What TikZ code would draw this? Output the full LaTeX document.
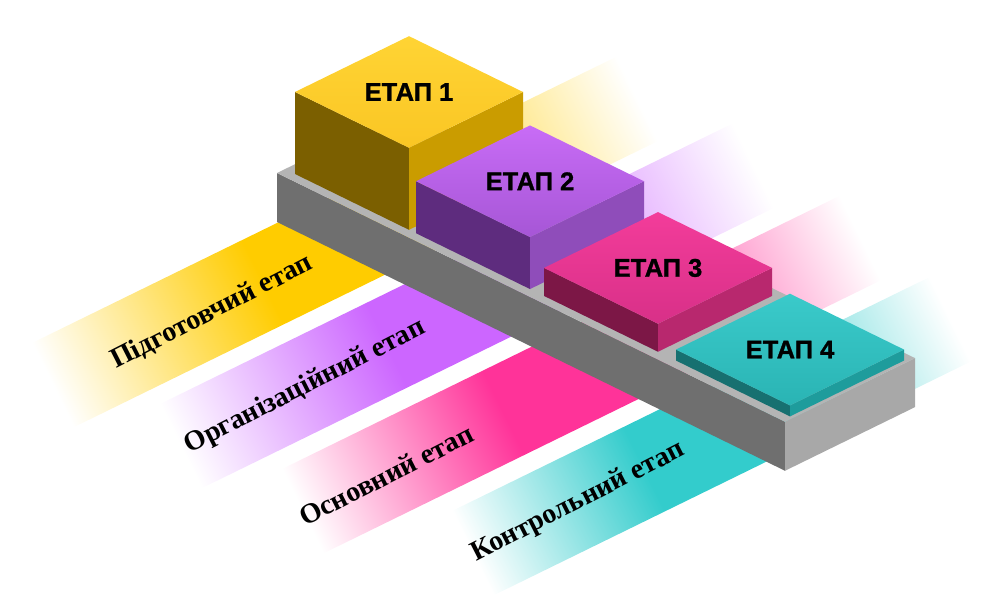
\documentclass[tikz,border=0pt]{standalone}
\usepackage{fontspec}
\setmainfont{Liberation Serif}
\newfontfamily\stagefont[FakeBold=1.2]{Liberation Sans Bold}

\definecolor{prepcol}{RGB}{255,204,0}
\definecolor{orgcol}{RGB}{204,102,255}
\definecolor{basecol}{RGB}{255,51,153}
\definecolor{ctrlcol}{RGB}{51,204,204}

\pgfdeclarehorizontalshading{prepfade}{100bp}{color(0bp)=(white); color(25bp)=(white); color(43bp)=(prepcol); color(53bp)=(prepcol); color(75bp)=(white); color(100bp)=(white)}
\pgfdeclarehorizontalshading{orgfade}{100bp}{color(0bp)=(white); color(25bp)=(white); color(43bp)=(orgcol); color(53bp)=(orgcol); color(75bp)=(white); color(100bp)=(white)}
\pgfdeclarehorizontalshading{basefade}{100bp}{color(0bp)=(white); color(25bp)=(white); color(43bp)=(basecol); color(53bp)=(basecol); color(75bp)=(white); color(100bp)=(white)}
\pgfdeclarehorizontalshading{ctrlfade}{100bp}{color(0bp)=(white); color(25bp)=(white); color(43bp)=(ctrlcol); color(53bp)=(ctrlcol); color(75bp)=(white); color(100bp)=(white)}

\begin{document}
\begin{tikzpicture}[x=0.02cm,y={(0,-0.02cm)},
  bandlabel/.style={font=\bfseries\fontsize{16}{18}\selectfont,rotate=27},
  stagelabel/.style={font=\stagefont\fontsize{14.5}{16}\selectfont}]

\useasboundingbox (0,0) rectangle (984,603);

% Stage bands
\begin{scope}[transform canvas={shift={(32,343)},rotate=26.1}]
\shade[shading=prepfade] (0,0) rectangle (651,94);
\end{scope}
\begin{scope}[transform canvas={shift={(160,404)},rotate=26.1}]
\shade[shading=orgfade] (0,0) rectangle (638,94);
\end{scope}
\begin{scope}[transform canvas={shift={(282,469)},rotate=26.1}]
\shade[shading=basefade] (0,0) rectangle (621,94);
\end{scope}
\begin{scope}[transform canvas={shift={(452,511)},rotate=26.1}]
\shade[shading=ctrlfade] (0,0) rectangle (532,94);
\end{scope}

% Band labels
\node[bandlabel] (prep) at (212,312) {Підготовчий етап};
\node[bandlabel] (org) at (305,387) {Організаційний етап};
\node[bandlabel] (base) at (386,475) {Основний етап};
\node[bandlabel] (ctrl) at (578,502) {Контрольний етап};

\begin{scope}[shift={(277,173)},x={(0.02cm,-0.0098cm)},y={(0.02cm,0.0098cm)},z={(0,0.02cm)}]

% Beam
\fill[fill={rgb,255:red,111;green,111;blue,111}]
  (0,0,0) -- (508,0,0) -- (508,0,-49) -- (0,0,-49) -- cycle;
\fill[fill={rgb,255:red,168;green,168;blue,168}]
  (508,0,0) -- (508,130,0) -- (508,130,-49) -- (508,0,-49) -- cycle;
\fill[fill={rgb,255:red,180;green,180;blue,180}]
  (0,0,0) -- (508,0,0) -- (508,130,0) -- (0,130,0) -- cycle;

% Stage 1 block
\fill[fill={rgb,255:red,123;green,95;blue,0}]
  (10,8,0) -- (124,8,0) -- (124,8,82) -- (10,8,82) -- cycle;
\fill[fill={rgb,255:red,202;green,156;blue,0}]
  (124,8,0) -- (124,122,0) -- (124,122,82) -- (124,8,82) -- cycle;
\shade[top color={rgb,255:red,255;green,212;blue,52},bottom color={rgb,255:red,250;green,198;blue,36}]
  (10,8,82) -- (124,8,82) -- (124,122,82) -- (10,122,82) -- cycle;
\node[stagelabel] (stage1) at (67,65,82) {ЕТАП 1};

% Stage 2 block
\fill[fill={rgb,255:red,94;green,44;blue,126}]
  (131,8,0) -- (245,8,0) -- (245,8,52) -- (131,8,52) -- cycle;
\fill[fill={rgb,255:red,143;green,77;blue,186}]
  (245,8,0) -- (245,122,0) -- (245,122,52) -- (245,8,52) -- cycle;
\shade[top color={rgb,255:red,200;green,108;blue,246},bottom color={rgb,255:red,166;green,86;blue,214}]
  (131,8,52) -- (245,8,52) -- (245,122,52) -- (131,122,52) -- cycle;
\node[stagelabel] (stage2) at (188,65,52) {ЕТАП 2};

% Stage 3 block
\fill[fill={rgb,255:red,124;green,23;blue,70}]
  (259,8,0) -- (373,8,0) -- (373,8,28) -- (259,8,28) -- cycle;
\fill[fill={rgb,255:red,184;green,40;blue,110}]
  (373,8,0) -- (373,122,0) -- (373,122,28) -- (373,8,28) -- cycle;
\shade[top color={rgb,255:red,243;green,60;blue,154},bottom color={rgb,255:red,216;green,48;blue,136}]
  (259,8,28) -- (373,8,28) -- (373,122,28) -- (259,122,28) -- cycle;
\node[stagelabel] (stage3) at (316,65,28) {ЕТАП 3};

% Stage 4 block
\fill[fill={rgb,255:red,23;green,112;blue,112}]
  (391,8,0) -- (505,8,0) -- (505,8,11) -- (391,8,11) -- cycle;
\fill[fill={rgb,255:red,30;green,156;blue,156}]
  (505,8,0) -- (505,122,0) -- (505,122,11) -- (505,8,11) -- cycle;
\shade[top color={rgb,255:red,58;green,202;blue,202},bottom color={rgb,255:red,42;green,180;blue,180}]
  (391,8,11) -- (505,8,11) -- (505,122,11) -- (391,122,11) -- cycle;
\node[stagelabel] (stage4) at (448,65,11) {ЕТАП 4};

\end{scope}

\end{tikzpicture}
\end{document}
